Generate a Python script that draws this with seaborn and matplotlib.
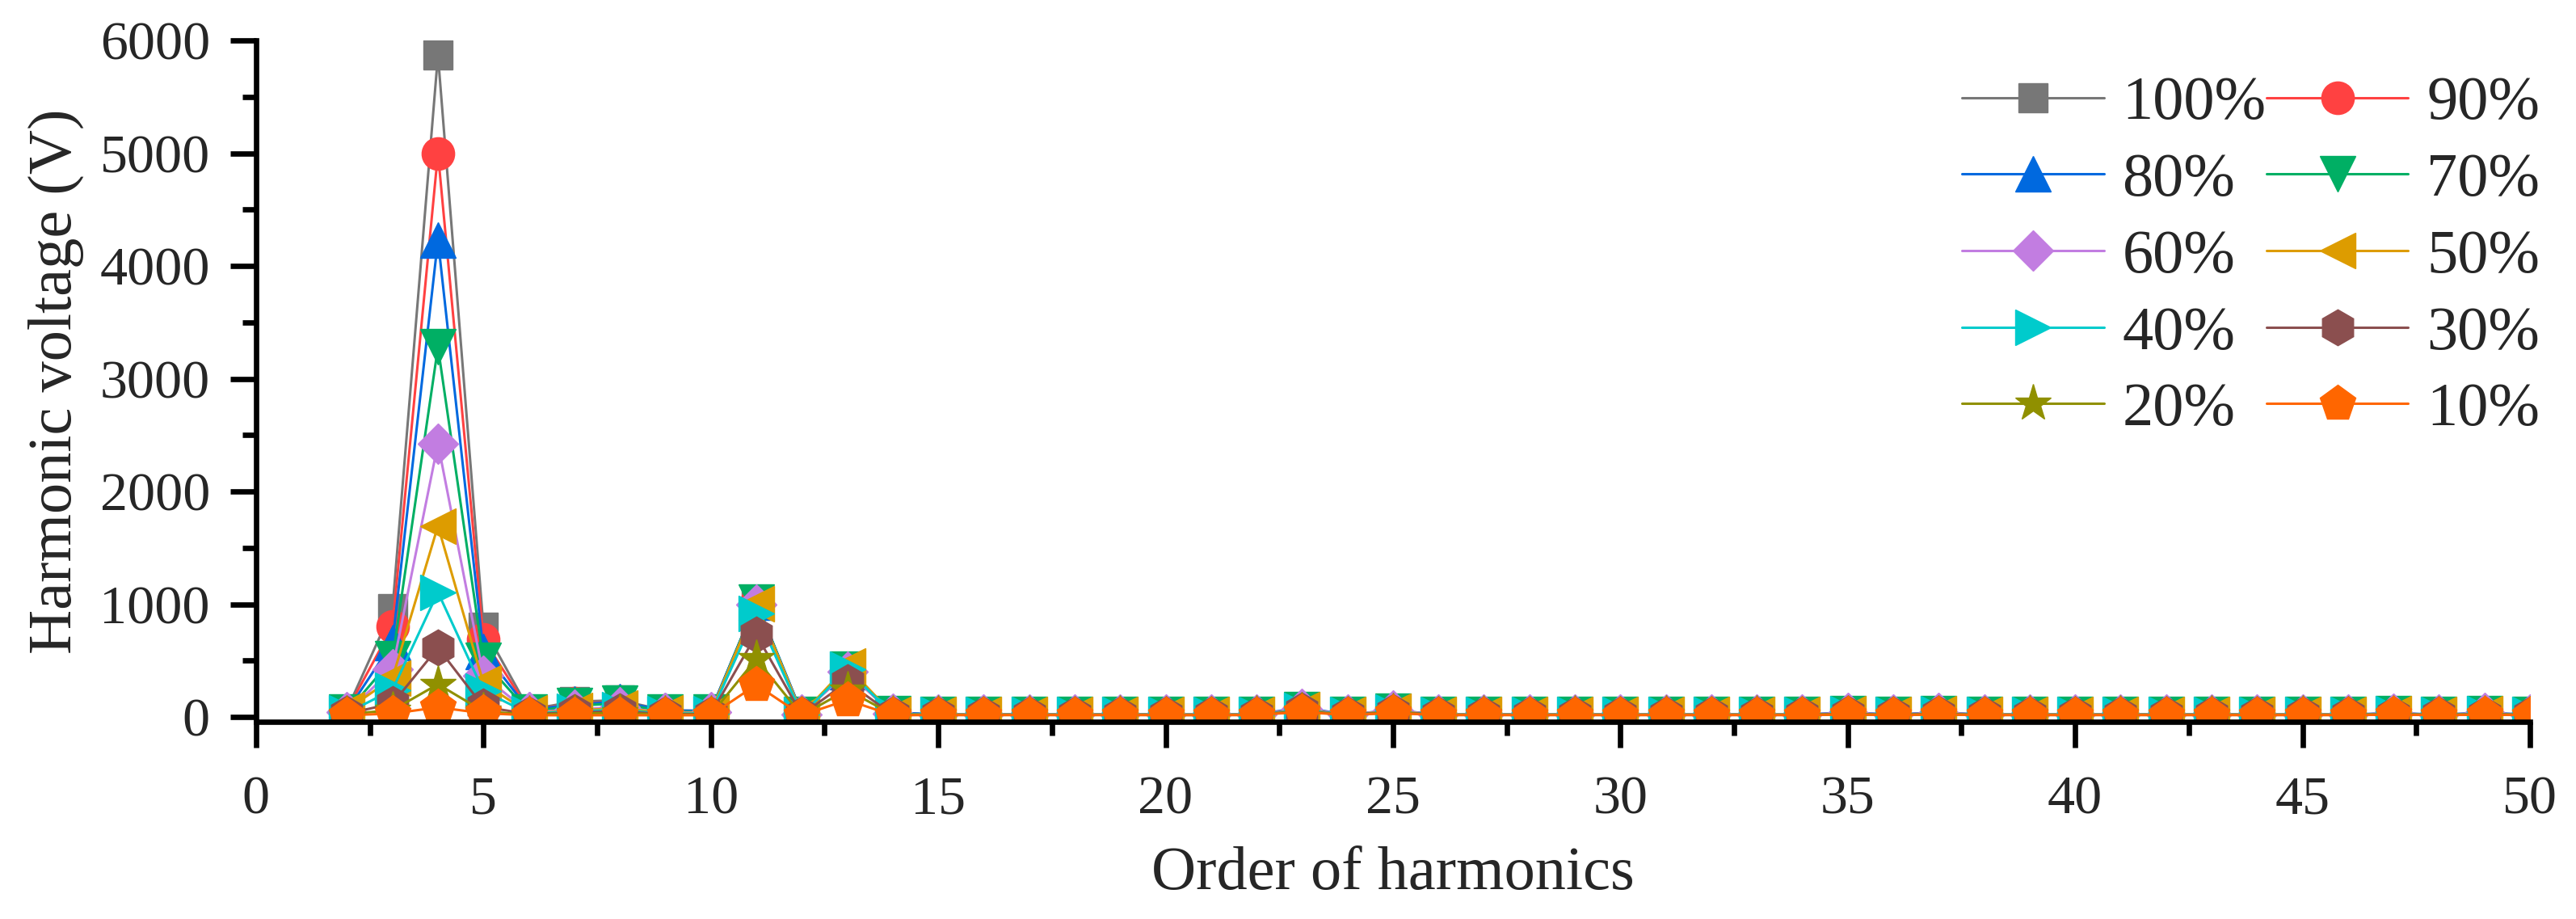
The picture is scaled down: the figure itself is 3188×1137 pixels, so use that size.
import numpy as np
import seaborn as sns
import matplotlib.pyplot as plt
from matplotlib.ticker import MultipleLocator

# harmonic orders and voltages (V) for each load level
orders = list(range(2, 51))

v100 = [65, 960, 5870, 795, 65, 136, 148, 57, 55, 1015, 30, 400, 35,
        22, 20, 22, 20, 22, 21, 20, 21, 70, 20, 55, 20, 21, 20, 22, 20, 21, 20, 21, 20,
        33, 20, 34, 20, 21, 20, 21, 20, 22, 20, 21, 20, 30, 20, 31, 20]
v90 = [60, 800, 5000, 690, 60, 122, 134, 55, 50, 1010, 30, 400, 30,
       21, 20, 21, 20, 21, 20, 20, 21, 70, 19, 55, 20, 21, 20, 21, 19, 21, 20, 20, 20,
       32, 20, 33, 20, 20, 20, 21, 20, 21, 20, 20, 20, 30, 20, 30, 20]
v80 = [50, 660, 4230, 580, 62, 112, 134, 57, 53, 1020, 35, 405, 40,
       22, 20, 21, 20, 22, 21, 20, 21, 85, 19, 62, 20, 21, 20, 21, 19, 20, 21, 20, 20,
       40, 21, 40, 20, 21, 20, 20, 21, 20, 21, 20, 20, 35, 20, 38, 20]
v70 = [43, 515, 3280, 500, 45, 100, 120, 45, 45, 1020, 25, 420, 30,
       20, 19, 20, 19, 20, 20, 19, 20, 65, 19, 50, 19, 20, 19, 20, 19, 20, 19, 20, 19,
       30, 19, 30, 19, 20, 19, 20, 19, 20, 19, 20, 19, 28, 19, 28, 19]
v60 = [40, 425, 2425, 365, 40, 67, 86, 38, 40, 1000, 25, 400, 30,
       21, 20, 21, 20, 21, 21, 20, 20, 75, 20, 58, 20, 21, 20, 21, 20, 21, 20, 21, 20,
       36, 20, 36, 20, 21, 20, 21, 20, 21, 20, 21, 20, 32, 20, 34, 20]
v50 = [62, 345, 1695, 300, 35, 55, 79, 35, 35, 1005, 20, 450, 25,
       21, 20, 21, 20, 21, 20, 20, 20, 65, 20, 50, 20, 21, 20, 21, 20, 21, 20, 21, 20,
       30, 20, 31, 20, 21, 20, 21, 20, 21, 20, 21, 20, 28, 20, 29, 20]
v40 = [35, 240, 1106, 230, 30, 50, 62, 30, 30, 920, 20, 420, 25,
       20, 19, 20, 19, 20, 19, 19, 20, 60, 19, 45, 19, 20, 19, 20, 19, 20, 19, 20, 19,
       28, 19, 28, 19, 20, 19, 20, 19, 20, 19, 20, 19, 26, 19, 26, 19]
v30 = [30, 118, 614, 90, 25, 40, 50, 25, 25, 730, 20, 310, 20,
       19, 18, 19, 18, 19, 18, 18, 19, 55, 18, 45, 18, 19, 18, 19, 18, 19, 18, 19, 18,
       26, 18, 26, 18, 19, 18, 19, 18, 19, 18, 19, 18, 24, 18, 24, 18]
v20 = [25, 60, 290, 50, 20, 30, 35, 20, 20, 515, 15, 240, 20,
       18, 17, 18, 17, 18, 17, 17, 18, 50, 17, 40, 17, 18, 17, 18, 17, 18, 17, 18, 17,
       24, 17, 24, 17, 18, 17, 18, 17, 18, 17, 18, 17, 22, 17, 22, 17]
v10 = [15, 30, 85, 33, 15, 15, 15, 15, 15, 285, 15, 150, 15,
       17, 16, 17, 16, 17, 16, 16, 17, 45, 16, 35, 16, 17, 16, 17, 16, 17, 16, 17, 16,
       22, 16, 22, 16, 17, 16, 17, 16, 17, 16, 17, 16, 20, 16, 20, 16]

labels = ['100%', '90%', '80%', '70%', '60%', '50%', '40%', '30%', '20%', '10%']
series = [v100, v90, v80, v70, v60, v50, v40, v30, v20, v10]
colors = ['#777777', '#FF4141', '#0069DF', '#00AF64', '#C27DE1',
          '#DD9C00', '#00CBCC', '#8B4F4F', '#909000', '#FF6600']
markers = ['s', 'o', '^', 'v', 'D', '<', '>', 'h', '*', 'p']
msizes = [26, 29, 31, 31, 25, 31, 31, 32, 34, 33]

sns.set_style('ticks')
plt.rcParams['font.family'] = ['Liberation Serif', 'DejaVu Serif']

fig = plt.figure(figsize=(31.88, 11.37), dpi=100)
ax = fig.add_axes([0.0994, 0.2146, 0.8827, 0.7414])

for lab, vals, col, mk, ms in zip(labels, series, colors, markers, msizes):
    sns.lineplot(x=orders, y=vals, ax=ax, color=col, marker=mk, markersize=ms,
                 markeredgecolor=col, markeredgewidth=1, linewidth=2.2, label=lab)

ax.set_xlim(0, 50)
ax.set_ylim(-43, 6000)
ax.xaxis.set_major_locator(MultipleLocator(5))
ax.xaxis.set_minor_locator(MultipleLocator(2.5))
ax.yaxis.set_major_locator(MultipleLocator(1000))
ax.yaxis.set_minor_locator(MultipleLocator(500))

sns.despine(ax=ax)
for side in ['left', 'bottom']:
    ax.spines[side].set_linewidth(4.8)
    ax.spines[side].set_color('black')
ax.tick_params(which='major', direction='out', length=23, width=4.8, color='black', labelsize=49)
ax.tick_params(which='minor', direction='out', length=12, width=4.8, color='black')
ax.tick_params(axis='y', which='major', pad=18)
ax.tick_params(axis='x', which='major', pad=25)

ax.set_xlabel('Order of harmonics', fontsize=55, labelpad=19)
ax.set_ylabel('Harmonic voltage (V)', fontsize=55, labelpad=14)

handles, labs = ax.get_legend_handles_labels()
order = [0, 2, 4, 6, 8, 1, 3, 5, 7, 9]
ax.legend([handles[i] for i in order], [labs[i] for i in order], ncol=2,
          loc='upper left', bbox_to_anchor=(2428 / 3188, 1 - 94 / 1137),
          bbox_transform=fig.transFigure, frameon=False, fontsize=55,
          handlelength=2.3, handletextpad=0.3, columnspacing=0.0,
          labelspacing=0.33, borderpad=0, borderaxespad=0)

fig.savefig('out.png', dpi=100)
